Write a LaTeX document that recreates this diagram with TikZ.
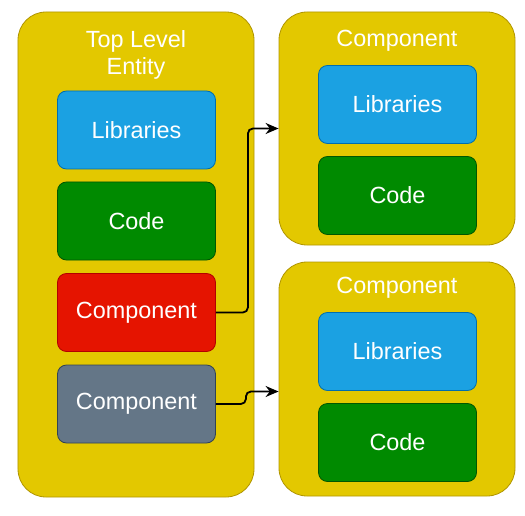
\documentclass[tikz,border=0pt]{standalone}
\usepackage{fontspec}
\setmainfont{Liberation Sans}
\usetikzlibrary{arrows.meta}
\definecolor{gelb}{HTML}{E3C800}
\definecolor{gelbrand}{HTML}{B09500}
\definecolor{blau}{HTML}{1BA1E2}
\definecolor{blaurand}{HTML}{006EAF}
\definecolor{gruen}{HTML}{008A00}
\definecolor{gruenrand}{HTML}{005700}
\definecolor{rot}{HTML}{E51400}
\definecolor{rotrand}{HTML}{B20000}
\definecolor{grau}{HTML}{647687}
\definecolor{graurand}{HTML}{314354}
\begin{document}
\begin{tikzpicture}[x=1bp,y=-1bp,
	rahmen/.style={draw=gelbrand,fill=gelb,rounded corners=28bp,minimum width=236bp,line width=0.8bp},
	kasten/.style={rounded corners=9bp,minimum width=158bp,minimum height=78bp,text=white,line width=0.8bp,font=\fontsize{23.5}{27}\selectfont},
	titel/.style={text=white,align=center,font=\fontsize{23.5}{28}\selectfont},
	pfeil/.style={line width=1.8bp,rounded corners=5bp,-{Stealth[length=13bp,width=11bp]}}]
		\useasboundingbox (0,0) rectangle (525,516);
		% grosse Boxen
		\node[rahmen,minimum height=485bp] (entity) at (136,254.5) {};
		\node[rahmen,minimum height=233bp] (compA) at (397,128.5) {};
		\node[rahmen,minimum height=234bp] (compB) at (397,379) {};
		% Titel
		\node[titel] (titleE) at (136,55) {Top Level\\Entity};
		\node[titel] (titleA) at (397,41) {Component};
		\node[titel] (titleB) at (397,288) {Component};
		% Kaesten links
		\foreach \n/\y/\f/\d/\t in {libE/130/blau/blaurand/Libraries,codeE/221/gruen/gruenrand/Code,compRed/312.5/rot/rotrand/Component,compGray/404/grau/graurand/Component}
		\node[kasten,fill=\f,draw=\d] (\n) at (136.5,\y) {\t};
		% Kaesten rechts
		\foreach \n/\y/\f/\d/\t in {libA/104.5/blau/blaurand/Libraries,codeA/195.5/gruen/gruenrand/Code,libB/351.5/blau/blaurand/Libraries,codeB/442.5/gruen/gruenrand/Code}
		\node[kasten,fill=\f,draw=\d] (\n) at (397.5,\y) {\t};
		% Pfeile
		\coordinate (einB) at ([yshift=-12.5bp]compB.west);
		\draw[pfeil] (compRed.east) -- ++(32,0) |- (compA.west);
		\draw[pfeil] (compGray.east) -- ++(30,0) |- (einB);
	\end{tikzpicture}
\end{document}
